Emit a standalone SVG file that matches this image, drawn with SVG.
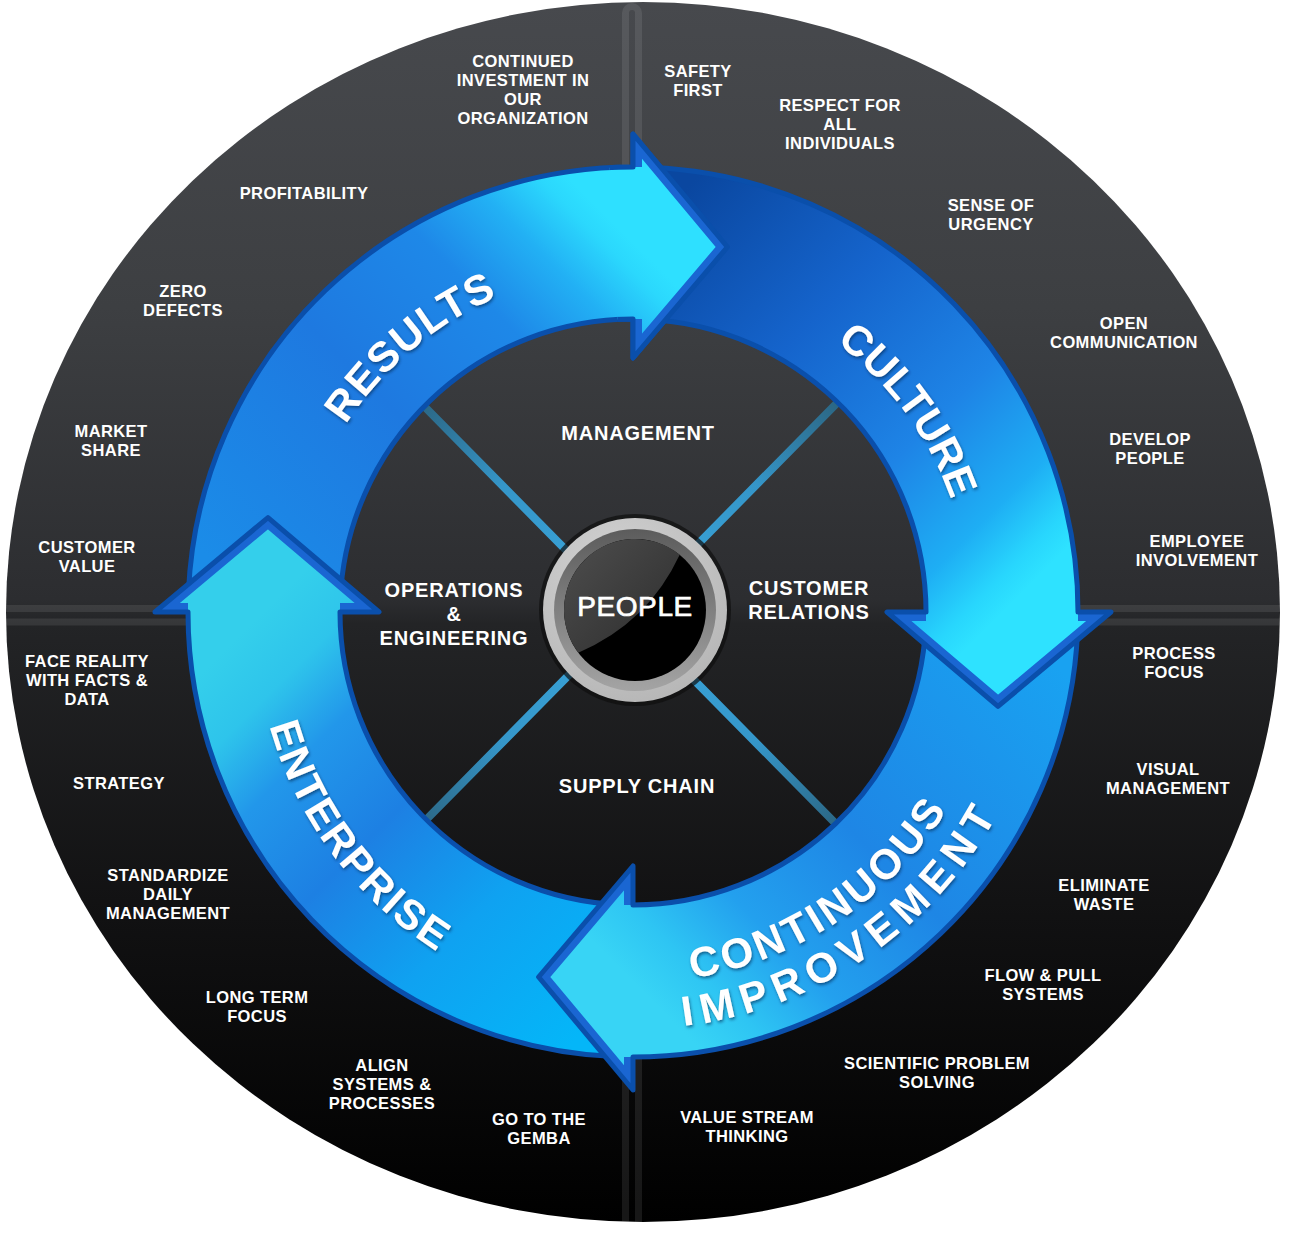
<svg xmlns="http://www.w3.org/2000/svg" width="1290" height="1240" viewBox="0 0 1290 1240">
<style>
.lbl{font-family:"Liberation Sans",Arial,sans-serif;font-weight:bold;font-size:16.5px;fill:#fff;text-anchor:middle;letter-spacing:0.4px}
.in{font-family:"Liberation Sans",Arial,sans-serif;font-weight:bold;font-size:20px;fill:#fff;text-anchor:middle;letter-spacing:0.8px}
.big{font-family:"Liberation Sans",Arial,sans-serif;font-weight:bold;font-size:42px;fill:#fff}
.band{fill:none;stroke:#1a66d2;stroke-width:18}
.edge{fill:none;stroke:#0a4fab;stroke-width:5;stroke-linejoin:round}
.div{fill:none;stroke:#fff;stroke-opacity:0.09;stroke-width:7}
</style>
<defs>
<linearGradient id="bg" gradientUnits="userSpaceOnUse" x1="0" y1="2" x2="0" y2="1222">
<stop offset="0" stop-color="#47494d"/>
<stop offset="0.25" stop-color="#3d3f42"/>
<stop offset="0.49" stop-color="#2c2d30"/>
<stop offset="0.51" stop-color="#232426"/>
<stop offset="0.75" stop-color="#111112"/>
<stop offset="1" stop-color="#000"/>
</linearGradient>
<clipPath id="ellClip"><ellipse cx="643" cy="612" rx="637" ry="610"/></clipPath>
<radialGradient id="spoke" gradientUnits="userSpaceOnUse" cx="629" cy="614" r="300">
<stop offset="0" stop-color="#3aa8de"/><stop offset="0.6" stop-color="#3596c9"/><stop offset="1" stop-color="#2b6582"/>
</radialGradient>
<clipPath id="arrowClip"><path d="M 19.41 -444.58 A 445 445 0 0 1 445 0 L 478 0 L 365 94.4 L 254 0 L 293 0 A 293 293 0 0 0 12.78 -292.72 Z"/></clipPath>
<clipPath id="headWedge"><path d="M 0 0 L 519.3 -27.2 L 488.6 177.8 Z"/></clipPath>
<linearGradient id="gR" gradientUnits="userSpaceOnUse" x1="0" y1="-370" x2="370" y2="0">
<stop offset="0" stop-color="#1b8ce8"/><stop offset="0.45" stop-color="#1e79e0"/><stop offset="0.72" stop-color="#1e88e8"/><stop offset="0.86" stop-color="#22b0f4"/><stop offset="0.96" stop-color="#2bd8fd"/><stop offset="1" stop-color="#2ee0ff"/>
</linearGradient>
<linearGradient id="gC" gradientUnits="userSpaceOnUse" x1="0" y1="-370" x2="370" y2="0">
<stop offset="0" stop-color="#0a47a0"/><stop offset="0.35" stop-color="#1564cc"/><stop offset="0.65" stop-color="#1e84e6"/><stop offset="0.85" stop-color="#1eaef4"/><stop offset="0.95" stop-color="#28d6fd"/><stop offset="1" stop-color="#2ee2ff"/>
</linearGradient>
<linearGradient id="gI" gradientUnits="userSpaceOnUse" x1="0" y1="-370" x2="370" y2="0">
<stop offset="0" stop-color="#19a2f1"/><stop offset="0.5" stop-color="#1e86e5"/><stop offset="0.75" stop-color="#23a0ee"/><stop offset="0.9" stop-color="#2ec5f3"/><stop offset="1" stop-color="#38d4f5"/>
</linearGradient>
<linearGradient id="gE" gradientUnits="userSpaceOnUse" x1="0" y1="-370" x2="370" y2="0">
<stop offset="0" stop-color="#04b6f8"/><stop offset="0.3" stop-color="#0fa2f1"/><stop offset="0.55" stop-color="#1d80e3"/><stop offset="0.75" stop-color="#2297ea"/><stop offset="0.88" stop-color="#2ec4eb"/><stop offset="1" stop-color="#34cfeb"/>
</linearGradient>
<radialGradient id="ringG" cx="0.4" cy="0.3" r="0.8">
<stop offset="0" stop-color="#d4d4d4"/><stop offset="1" stop-color="#b4b4b4"/>
</radialGradient>
<linearGradient id="ringIn" x1="0" y1="0" x2="0" y2="1">
<stop offset="0" stop-color="#5c5c5c"/><stop offset="1" stop-color="#a4a4a4"/>
</linearGradient>
<linearGradient id="hl" x1="0" y1="0" x2="1" y2="1">
<stop offset="0" stop-color="#4e4e4e"/><stop offset="1" stop-color="#2c2c2c"/>
</linearGradient>
<filter id="ts" x="-10%" y="-20%" width="120%" height="140%">
<feDropShadow dx="1" dy="2" stdDeviation="1.5" flood-color="#00284f" flood-opacity="0.6"/>
</filter>
<path id="tpResults" d="M 290 612 A 343 343 0 0 1 692.6 274.2"/>
<path id="tpCulture" d="M 655.1 275.2 A 337.5 337.5 0 0 1 960.8 692.2"/>
<path id="tpEnterprise" d="M 265.5 529.6 A 393 393 0 0 0 625.4 1012.3"/>
<path id="tpContinuous" d="M 528.9 968.1 A 371 371 0 0 0 1001.8 652.7"/>
<path id="tpImprovement" d="M 520.5 1013.5 A 417 417 0 0 0 1048 653.1"/>
</defs>

<rect width="1290" height="1240" fill="#fff"/>

<g id="background">
<ellipse cx="643" cy="612" rx="637" ry="610" fill="url(#bg)"/>
<g clip-path="url(#ellClip)">
<rect class="div" x="625.5" y="6.5" width="13" height="1240" rx="6.5"/>
<rect class="div" x="-20" y="608.5" width="1330" height="13.5"/>
</g>
<circle cx="633" cy="612" r="300" fill="url(#bg)"/>
</g>

<g id="connectors">
<path d="M 419 401 L 839 827 M 839 401 L 419 827" fill="none" stroke="url(#spoke)" stroke-width="8"/>
</g>

<g id="arrow-results" transform="translate(633 612) rotate(-90)">
<path d="M 19.41 -444.58 A 445 445 0 0 1 445 0 L 478 0 L 365 94.4 L 254 0 L 293 0 A 293 293 0 0 0 12.78 -292.72 Z" fill="url(#gR)"/>
<path class="band" d="M 445 0 L 478 0 L 365 94.4 L 254 0 L 293 0" clip-path="url(#arrowClip)"/>
<path class="edge" d="M 19.41 -444.58 A 445 445 0 0 1 445 0 L 478 0 L 365 94.4 L 254 0 L 293 0 A 293 293 0 0 0 12.78 -292.72 Z"/>
</g>
<g id="arrow-enterprise" transform="translate(633 612) rotate(180)">
<path d="M 19.41 -444.58 A 445 445 0 0 1 445 0 L 478 0 L 365 94.4 L 254 0 L 293 0 A 293 293 0 0 0 12.78 -292.72 Z" fill="url(#gE)"/>
<path class="band" d="M 445 0 L 478 0 L 365 94.4 L 254 0 L 293 0" clip-path="url(#arrowClip)"/>
<path class="edge" d="M 19.41 -444.58 A 445 445 0 0 1 445 0 L 478 0 L 365 94.4 L 254 0 L 293 0 A 293 293 0 0 0 12.78 -292.72 Z"/>
</g>
<g id="arrow-continuous-improvement" transform="translate(633 612) rotate(90)">
<path d="M 19.41 -444.58 A 445 445 0 0 1 445 0 L 478 0 L 365 94.4 L 254 0 L 293 0 A 293 293 0 0 0 12.78 -292.72 Z" fill="url(#gI)"/>
<path class="band" d="M 445 0 L 478 0 L 365 94.4 L 254 0 L 293 0" clip-path="url(#arrowClip)"/>
<path class="edge" d="M 19.41 -444.58 A 445 445 0 0 1 445 0 L 478 0 L 365 94.4 L 254 0 L 293 0 A 293 293 0 0 0 12.78 -292.72 Z"/>
</g>
<g id="arrow-culture" transform="translate(633 612)">
<path d="M 19.41 -444.58 A 445 445 0 0 1 445 0 L 478 0 L 365 94.4 L 254 0 L 293 0 A 293 293 0 0 0 12.78 -292.72 Z" fill="url(#gC)"/>
<path class="band" d="M 445 0 L 478 0 L 365 94.4 L 254 0 L 293 0" clip-path="url(#arrowClip)"/>
<path class="edge" d="M 19.41 -444.58 A 445 445 0 0 1 445 0 L 478 0 L 365 94.4 L 254 0 L 293 0 A 293 293 0 0 0 12.78 -292.72 Z"/>
</g>
<g id="arrow-results-head" transform="translate(633 612) rotate(-90)" clip-path="url(#headWedge)">
<path d="M 19.41 -444.58 A 445 445 0 0 1 445 0 L 478 0 L 365 94.4 L 254 0 L 293 0 A 293 293 0 0 0 12.78 -292.72 Z" fill="url(#gR)"/>
<path class="band" d="M 445 0 L 478 0 L 365 94.4 L 254 0 L 293 0" clip-path="url(#arrowClip)"/>
<path class="edge" d="M 19.41 -444.58 A 445 445 0 0 1 445 0 L 478 0 L 365 94.4 L 254 0 L 293 0 A 293 293 0 0 0 12.78 -292.72 Z"/>
</g>

<g id="arrow-labels" filter="url(#ts)">
<text class="big" letter-spacing="1.3"><textPath href="#tpResults" startOffset="50%" text-anchor="middle">RESULTS</textPath></text>
<text class="big" letter-spacing="0"><textPath href="#tpCulture" startOffset="50%" text-anchor="middle">CULTURE</textPath></text>
<text class="big" letter-spacing="2.1"><textPath href="#tpEnterprise" startOffset="50%" text-anchor="middle">ENTERPRISE</textPath></text>
<text class="big" letter-spacing="3.5"><textPath href="#tpContinuous" startOffset="50%" text-anchor="middle">CONTINUOUS</textPath></text>
<text class="big" letter-spacing="7.8"><textPath href="#tpImprovement" startOffset="50%" text-anchor="middle">IMPROVEMENT</textPath></text>
</g>

<g id="people">
<circle cx="635" cy="610" r="96" fill="#0e0e0e" opacity="0.7"/>
<circle cx="635" cy="610" r="92" fill="url(#ringG)"/>
<circle cx="635" cy="610" r="81" fill="url(#ringIn)"/>
<circle cx="635" cy="610" r="71" fill="#000"/>
<path d="M 679.7 554.8 A 71 71 0 0 0 578.3 652.7 Q 648 623 679.7 554.8 Z" fill="url(#hl)"/>
<text x="635" y="616" font-family="Liberation Sans, Arial, sans-serif" font-size="28" fill="#fff" stroke="#fff" stroke-width="0.7" text-anchor="middle" letter-spacing="0.6">PEOPLE</text>
</g>

<g id="inner-labels">
<g id="management"><text class="in" x="638" y="440">MANAGEMENT</text></g>
<g id="operations"><text class="in"><tspan x="454" y="597">OPERATIONS</tspan><tspan x="454" y="621">&amp;</tspan><tspan x="454" y="645">ENGINEERING</tspan></text></g>
<g id="customer-relations"><text class="in"><tspan x="809" y="595">CUSTOMER</tspan><tspan x="809" y="619">RELATIONS</tspan></text></g>
<g id="supply-chain"><text class="in" x="637" y="793">SUPPLY CHAIN</text></g>
</g>

<g id="outer-labels">
<g id="l-continued"><text class="lbl"><tspan x="523" y="67">CONTINUED</tspan><tspan x="523" y="86">INVESTMENT IN</tspan><tspan x="523" y="105">OUR</tspan><tspan x="523" y="124">ORGANIZATION</tspan></text></g>
<g id="l-profitability"><text class="lbl" x="304" y="199">PROFITABILITY</text></g>
<g id="l-zero"><text class="lbl"><tspan x="183" y="297">ZERO</tspan><tspan x="183" y="316">DEFECTS</tspan></text></g>
<g id="l-market"><text class="lbl"><tspan x="111" y="437">MARKET</tspan><tspan x="111" y="456">SHARE</tspan></text></g>
<g id="l-customer-value"><text class="lbl"><tspan x="87" y="553">CUSTOMER</tspan><tspan x="87" y="572">VALUE</tspan></text></g>

<g id="l-safety"><text class="lbl"><tspan x="698" y="77">SAFETY</tspan><tspan x="698" y="96">FIRST</tspan></text></g>
<g id="l-respect"><text class="lbl"><tspan x="840" y="111">RESPECT FOR</tspan><tspan x="840" y="130">ALL</tspan><tspan x="840" y="149">INDIVIDUALS</tspan></text></g>
<g id="l-urgency"><text class="lbl"><tspan x="991" y="211">SENSE OF</tspan><tspan x="991" y="230">URGENCY</tspan></text></g>
<g id="l-open"><text class="lbl"><tspan x="1124" y="329">OPEN</tspan><tspan x="1124" y="348">COMMUNICATION</tspan></text></g>
<g id="l-develop"><text class="lbl"><tspan x="1150" y="445">DEVELOP</tspan><tspan x="1150" y="464">PEOPLE</tspan></text></g>
<g id="l-employee"><text class="lbl"><tspan x="1197" y="547">EMPLOYEE</tspan><tspan x="1197" y="566">INVOLVEMENT</tspan></text></g>

<g id="l-process"><text class="lbl"><tspan x="1174" y="659">PROCESS</tspan><tspan x="1174" y="678">FOCUS</tspan></text></g>
<g id="l-visual"><text class="lbl"><tspan x="1168" y="775">VISUAL</tspan><tspan x="1168" y="794">MANAGEMENT</tspan></text></g>
<g id="l-eliminate"><text class="lbl"><tspan x="1104" y="891">ELIMINATE</tspan><tspan x="1104" y="910">WASTE</tspan></text></g>
<g id="l-flow"><text class="lbl"><tspan x="1043" y="981">FLOW &amp; PULL</tspan><tspan x="1043" y="1000">SYSTEMS</tspan></text></g>
<g id="l-scientific"><text class="lbl"><tspan x="937" y="1069">SCIENTIFIC PROBLEM</tspan><tspan x="937" y="1088">SOLVING</tspan></text></g>
<g id="l-value-stream"><text class="lbl"><tspan x="747" y="1123">VALUE STREAM</tspan><tspan x="747" y="1142">THINKING</tspan></text></g>

<g id="l-face"><text class="lbl"><tspan x="87" y="667">FACE REALITY</tspan><tspan x="87" y="686">WITH FACTS &amp;</tspan><tspan x="87" y="705">DATA</tspan></text></g>
<g id="l-strategy"><text class="lbl" x="119" y="789">STRATEGY</text></g>
<g id="l-standardize"><text class="lbl"><tspan x="168" y="881">STANDARDIZE</tspan><tspan x="168" y="900">DAILY</tspan><tspan x="168" y="919">MANAGEMENT</tspan></text></g>
<g id="l-long"><text class="lbl"><tspan x="257" y="1003">LONG TERM</tspan><tspan x="257" y="1022">FOCUS</tspan></text></g>
<g id="l-align"><text class="lbl"><tspan x="382" y="1071">ALIGN</tspan><tspan x="382" y="1090">SYSTEMS &amp;</tspan><tspan x="382" y="1109">PROCESSES</tspan></text></g>
<g id="l-gemba"><text class="lbl"><tspan x="539" y="1125">GO TO THE</tspan><tspan x="539" y="1144">GEMBA</tspan></text></g>
</g>
</svg>
